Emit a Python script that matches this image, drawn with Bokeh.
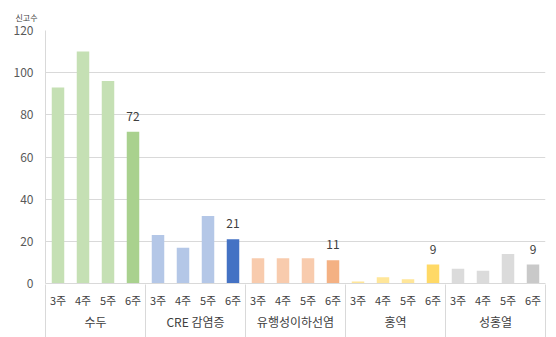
from bokeh.plotting import figure
from bokeh.models import (ColumnDataSource, FactorRange, Range1d,
                          CategoricalAxis, FixedTicker, Title)
from bokeh.core.properties import value
from bokeh.embed import file_html
from bokeh.resources import INLINE

# Weekly report counts per disease (weeks 3-6)
groups = ["수두", "CRE 감염증", "유행성이하선염", "홍역", "성홍열"]
weeks = ["3주", "4주", "5주", "6주"]
chickenpox = [93, 110, 96, 72]
cre = [23, 17, 32, 21]
mumps = [12, 12, 12, 11]
measles = [1, 3, 2, 9]
scarlet_fever = [7, 6, 14, 9]
y_ticks = [0, 20, 40, 60, 80, 100, 120]

series = [chickenpox, cre, mumps, measles, scarlet_fever]

# Past weeks in a pale tint, current week in a stronger shade
light = ["#c5e0b4", "#b4c7e7", "#f8cbad", "#ffe699", "#dbdbdb"]
dark = ["#a9d18e", "#4472c4", "#f4b183", "#ffd966", "#c9c9c9"]

FONT = "Noto Sans CJK KR"
GRID = "#d9d9d9"

factors, counts, colors = [], [], []
for g, vals, lc, dc in zip(groups, series, light, dark):
    for w, v in zip(weeks, vals):
        factors.append((g, w))
        counts.append(v)
        colors.append(dc if w == weeks[-1] else lc)

src = ColumnDataSource(dict(x=factors, y=counts, color=colors))

latest = [(g, weeks[-1]) for g in groups]
latest_vals = [vals[-1] for vals in series]
lbl_src = ColumnDataSource(dict(x=latest, y=latest_vals,
                                text=[str(v) for v in latest_vals]))

x_range = FactorRange(*factors, range_padding=0, factor_padding=0,
                      group_padding=0)

p = figure(width=556, height=337, x_range=x_range, y_range=Range1d(0, 120),
           output_backend="svg", toolbar_location=None,
           min_border_left=45, min_border_right=11,
           min_border_top=30, min_border_bottom=53)
p.outline_line_color = None

p.vbar(x="x", top="y", width=0.5, source=src, fill_color="color",
       line_color=None)

p.text(x="x", y="y", text="text", source=lbl_src,
       text_font=value(FONT), text_font_size="12px", text_color="#404040",
       text_align="center", text_baseline="bottom", y_offset=-11)

# y axis and grid
p.yaxis.ticker = FixedTicker(ticks=y_ticks)
p.yaxis.axis_line_color = GRID
p.yaxis.major_tick_line_color = None
p.yaxis.minor_tick_line_color = None
p.yaxis.major_label_text_font = FONT
p.yaxis.major_label_text_font_size = "12px"
p.yaxis.major_label_text_color = "#595959"
p.yaxis.major_label_standoff = 6
p.ygrid.grid_line_color = GRID
p.xgrid.grid_line_color = None

# categorical x axis with week / disease levels
xa = p.xaxis[0]
xa.axis_line_color = GRID
xa.major_tick_line_color = None
xa.major_label_text_font = FONT
xa.major_label_text_font_size = "11px"
xa.major_label_text_color = "#404040"
xa.major_label_standoff = 2
xa.group_text_font = FONT
xa.group_text_font_size = "12px"
xa.group_text_font_style = "normal"
xa.group_text_color = "#404040"
xa.separator_line_color = None

# full-height dividers between disease groups (and at both ends)
edges = ["e%d" % i for i in range(len(groups) + 1)]
p.extra_x_ranges = {"edge": FactorRange(*edges, range_padding=-0.499,
                                        range_padding_units="absolute")}
edge_axis = CategoricalAxis(x_range_name="edge", axis_line_color=None,
                            major_tick_in=48, major_tick_out=5,
                            major_tick_line_color=GRID,
                            major_label_standoff=0,
                            major_label_text_font_size="0px",
                            major_label_text_color=None)
p.add_layout(edge_axis, "below")

# unit caption above the value axis
p.add_layout(Title(text="신고수", text_font=FONT, text_font_size="8px",
                   text_font_style="normal", text_color="#404040",
                   align="left", offset=-30, standoff=16), "above")

open("out.html", "w").write(file_html(p, INLINE))
